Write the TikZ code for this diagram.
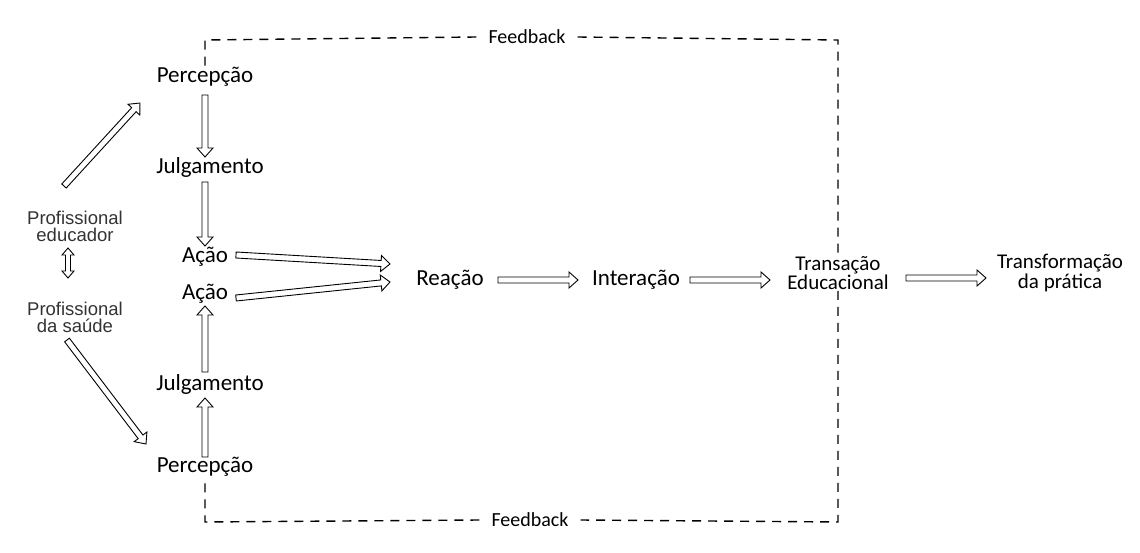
\documentclass[tikz,border=0pt]{standalone}
\usepackage{fontspec}
\setmainfont{Carlito}
\newfontfamily\arial{Liberation Sans}
\usetikzlibrary{calc}
\newcommand\hollowarrow[2]{%
  \draw[line width=0.9pt, fill=white] let \p1=($(#2)-(#1)$), \n1={atan2(\y1,\x1)}, \n2={veclen(\x1,\y1)} in
    [shift={(#1)}, rotate=\n1]
    (0,-3) -- ({\n2-9},-3) -- ({\n2-9},-8) -- (\n2,0) -- ({\n2-9},8) -- ({\n2-9},3) -- (0,3) -- cycle;}
\newcommand\hollowdarrow[2]{%
  \draw[line width=0.9pt, fill=white] let \p1=($(#2)-(#1)$), \n1={atan2(\y1,\x1)}, \n2={veclen(\x1,\y1)} in
    [shift={(#1)}, rotate=\n1]
    (0,0) -- (7,-6) -- (7,-2.5) -- ({\n2-7},-2.5) -- ({\n2-7},-6) -- (\n2,0) -- ({\n2-7},6) -- ({\n2-7},2.5) -- (7,2.5) -- (7,6) -- cycle;}
\begin{document}
\begin{tikzpicture}[x=1pt,y=-1pt,
  lbl/.style={font=\fontsize{23}{23}\selectfont, inner sep=1pt, align=center},
  prof/.style={font=\arial\fontsize{18.5}{17}\selectfont, text=black!80, align=center, inner sep=1pt},
  fb/.style={line width=1.4pt, dash pattern=on 9pt off 7pt}]
\useasboundingbox (0,0) rectangle (1140,553);
\node[lbl] (p1) at (205,77) {Percepção};
\node[lbl] (j1) at (210,167) {Julgamento};
\node[lbl] (a1) at (205,257) {Ação};
\node[lbl] (a2) at (205,294) {Ação};
\node[lbl] (j2) at (210,384) {Julgamento};
\node[lbl] (p2) at (205,467) {Percepção};
\node[prof] (pe) at (75,226) {Profissional\\educador};
\node[prof] (ps) at (75,317) {Profissional\\da saúde};
\node[lbl] (re) at (450,280) {Reação};
\node[lbl] (in) at (636,280) {Interação};
\node[lbl,font=\fontsize{21}{16}\selectfont] (tr) at (838,273) {Transação\\Educacional};
\node[lbl,font=\fontsize{21}{16}\selectfont] (tf) at (1060,273) {Transformação\\da prática};
\node[lbl,font=\fontsize{20}{20}\selectfont, inner xsep=12pt] (f1) at (527,37) {Feedback};
\node[lbl,font=\fontsize{20}{20}\selectfont, inner xsep=12pt] (f2) at (530,520) {Feedback};
% feedback dashed frame
\coordinate (tl) at (205,40);
\coordinate (tr0) at (838,40);
\coordinate (bl) at (205,522);
\coordinate (br) at (838,522);
\draw[fb] (f1.west) -- (tl) -- (p1.north);
\draw[fb] (f1.east) -- (tr0) -- (tr.north);
\draw[fb] (tr.south) -- (br) -- (f2.east);
\draw[fb] (f2.west) -- (bl) -- (p2.south);
% arrows
\coordinate (s1) at (205,95);  \coordinate (e1) at (205,157);
\coordinate (s2) at (205,182); \coordinate (e2) at (205,246);
\coordinate (s3) at (205,372); \coordinate (e3) at (205,306);
\coordinate (s4) at (205,457); \coordinate (e4) at (205,398);
\coordinate (s5) at (64,186);  \coordinate (e5) at (140,103);
\coordinate (s6) at (67,340);  \coordinate (e6) at (146,444);
\coordinate (s7) at (236,255); \coordinate (e7) at (390,264);
\coordinate (s8) at (236,298); \coordinate (e8) at (390,282);
\coordinate (s9) at (498,280); \coordinate (e9) at (578,280);
\coordinate (s10) at (690,280); \coordinate (e10) at (770,280);
\coordinate (s11) at (906,278); \coordinate (e11) at (986,278);
\hollowarrow{s1}{e1}\hollowarrow{s2}{e2}\hollowarrow{s3}{e3}\hollowarrow{s4}{e4}
\hollowarrow{s5}{e5}\hollowarrow{s6}{e6}\hollowarrow{s7}{e7}\hollowarrow{s8}{e8}
\hollowarrow{s9}{e9}\hollowarrow{s10}{e10}\hollowarrow{s11}{e11}
\coordinate (d1) at (68,248); \coordinate (d2) at (68,278);
\hollowdarrow{d1}{d2}
\end{tikzpicture}
\end{document}
